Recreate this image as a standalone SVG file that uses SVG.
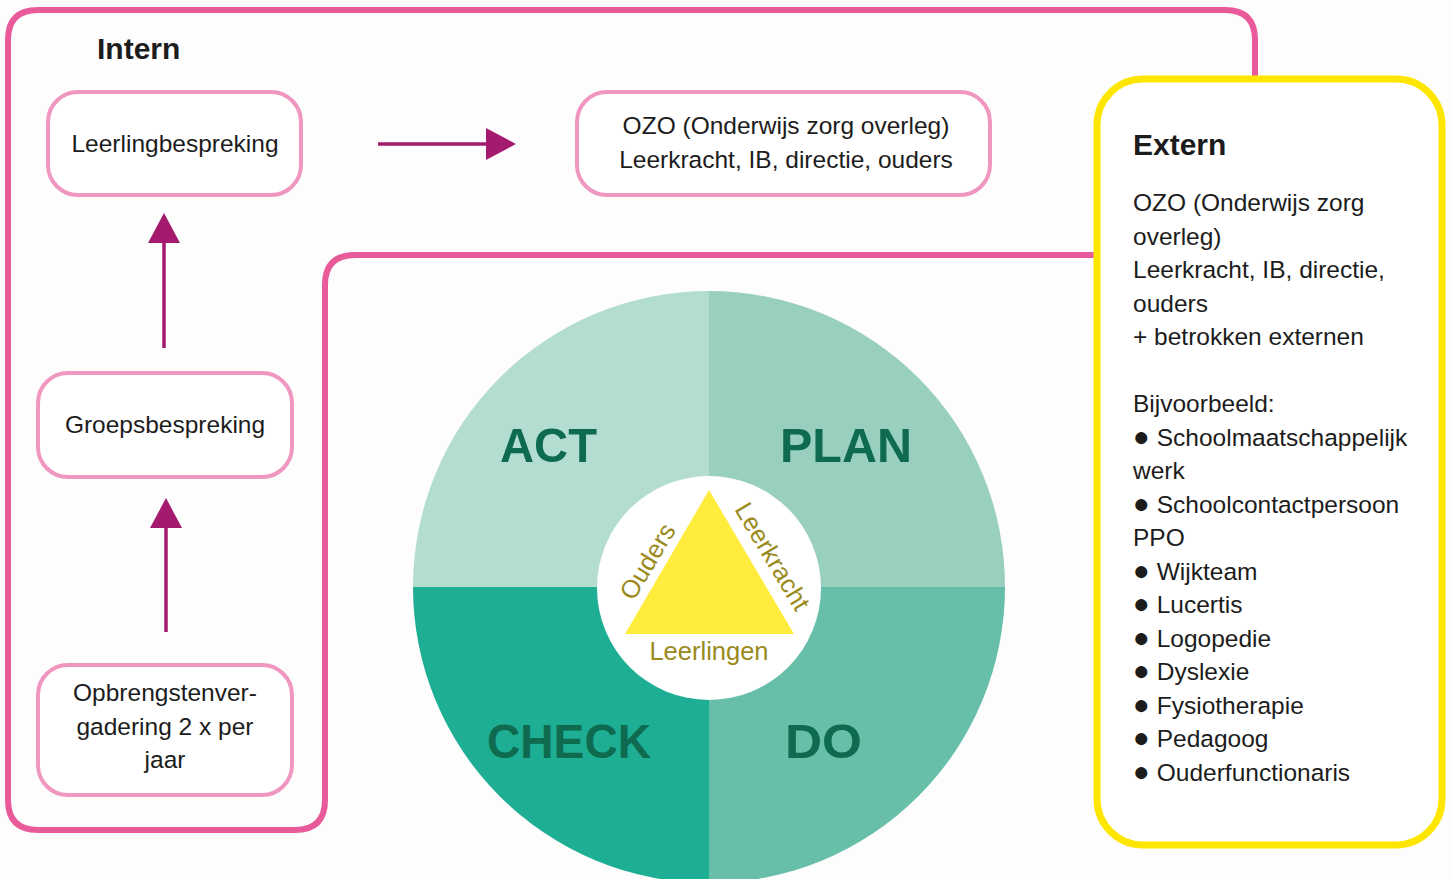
<svg xmlns="http://www.w3.org/2000/svg" width="1453" height="879" viewBox="0 0 1453 879">
<style>
text{font-family:"Liberation Sans",Arial,sans-serif;fill:#1c1c1c}
.t{font-size:24.5px}
.c{text-anchor:middle}
.h{font-size:30px;font-weight:bold}
.big{font-size:49px;font-weight:bold;fill:#0e6b4f}
.box{fill:#fff;stroke:#ef97c0;stroke-width:4}
.con{stroke:#a31a6e;stroke-width:3.5;fill:none}
.tri{font-size:25.5px;fill:#9a8a1c}
.bul{font-size:28px}
</style>
<defs>
<marker id="ah" viewBox="0 0 30 32" refX="0" refY="16" markerWidth="30" markerHeight="32" markerUnits="userSpaceOnUse" orient="auto">
<path d="M0,0 L30,16 L0,32 Z" fill="#a31a6e"/>
</marker>
</defs>
<rect width="1453" height="879" fill="#fdfdfd"/>
<g id="frame">
<path d="M1255,82 V40 Q1255,10 1225,10 H38 Q8,10 8,40 V800 Q8,830 38,830 H295 Q325,830 325,800 V285 Q325,255 355,255 H1098" fill="none" stroke="#e95a9b" stroke-width="6"/>
<text class="h" x="97" y="59">Intern</text>
</g>
<g id="pdca">
<path d="M709,587 V291 A296,296 0 0 0 413,587 Z" fill="#b4ddd2"/>
<path d="M709,587 V291 A296,296 0 0 1 1005,587 Z" fill="#99cfbf"/>
<path d="M709,587 H413 A296,296 0 0 0 709,883 Z" fill="#1eae94"/>
<path d="M709,587 H1005 A296,296 0 0 1 709,883 Z" fill="#67bea9"/>
<text class="big" x="500" y="462" textLength="97" lengthAdjust="spacingAndGlyphs">ACT</text>
<text class="big" x="780" y="462" textLength="132" lengthAdjust="spacingAndGlyphs">PLAN</text>
<text class="big" x="487" y="758" textLength="164" lengthAdjust="spacingAndGlyphs">CHECK</text>
<text class="big" x="785" y="758" textLength="77" lengthAdjust="spacingAndGlyphs">DO</text>
<circle cx="709" cy="588" r="112" fill="#fff"/>
<path d="M709,490 L794,634 L625,634 Z" fill="#ffec3c"/>
<text class="tri c" x="709" y="660">Leerlingen</text>
<text class="tri c" transform="translate(655,566) rotate(-59)">Ouders</text>
<text class="tri c" transform="translate(765,561) rotate(59)">Leerkracht</text>
</g>
<g id="extern">
<rect x="1097" y="79" width="345" height="766" rx="46" fill="#fff" stroke="#ffe600" stroke-width="7"/>
<text class="h" x="1133" y="155">Extern</text>
<text class="t" x="1133">
<tspan x="1133" y="211">OZO (Onderwijs zorg</tspan>
<tspan x="1133" y="244.5">overleg)</tspan>
<tspan x="1133" y="278">Leerkracht, IB, directie,</tspan>
<tspan x="1133" y="311.5">ouders</tspan>
<tspan x="1133" y="345">+ betrokken externen</tspan>
<tspan x="1133" y="412">Bijvoorbeeld:</tspan>
<tspan x="1133" y="445.5"><tspan class="bul">●</tspan> Schoolmaatschappelijk</tspan>
<tspan x="1133" y="479">werk</tspan>
<tspan x="1133" y="512.5"><tspan class="bul">●</tspan> Schoolcontactpersoon</tspan>
<tspan x="1133" y="546">PPO</tspan>
<tspan x="1133" y="579.5"><tspan class="bul">●</tspan> Wijkteam</tspan>
<tspan x="1133" y="613"><tspan class="bul">●</tspan> Lucertis</tspan>
<tspan x="1133" y="646.5"><tspan class="bul">●</tspan> Logopedie</tspan>
<tspan x="1133" y="680"><tspan class="bul">●</tspan> Dyslexie</tspan>
<tspan x="1133" y="713.5"><tspan class="bul">●</tspan> Fysiotherapie</tspan>
<tspan x="1133" y="747"><tspan class="bul">●</tspan> Pedagoog</tspan>
<tspan x="1133" y="780.5"><tspan class="bul">●</tspan> Ouderfunctionaris</tspan>
</text>
</g>
<g id="leerlingbespreking">
<rect class="box" x="48" y="92" width="253" height="103" rx="30"/>
<text class="t c" x="175" y="152">Leerlingbespreking</text>
</g>
<g id="ozo">
<rect class="box" x="577" y="92" width="413" height="103" rx="30"/>
<text class="t c" x="786" y="134">OZO (Onderwijs zorg overleg)</text>
<text class="t c" x="786" y="168">Leerkracht, IB, directie, ouders</text>
</g>
<g id="groepsbespreking">
<rect class="box" x="38" y="373" width="254" height="104" rx="30"/>
<text class="t c" x="165" y="433">Groepsbespreking</text>
</g>
<g id="opbrengstenvergadering">
<rect class="box" x="38" y="665" width="254" height="130" rx="30"/>
<text class="t c" x="165" y="701">Opbrengstenver-</text>
<text class="t c" x="165" y="735">gadering 2 x per</text>
<text class="t c" x="165" y="768">jaar</text>
</g>
<g id="connectors">
<path class="con" d="M378,144 H486" marker-end="url(#ah)"/>
<path class="con" d="M164,348 V243" marker-end="url(#ah)"/>
<path class="con" d="M166,632 V528" marker-end="url(#ah)"/>
</g>
</svg>
